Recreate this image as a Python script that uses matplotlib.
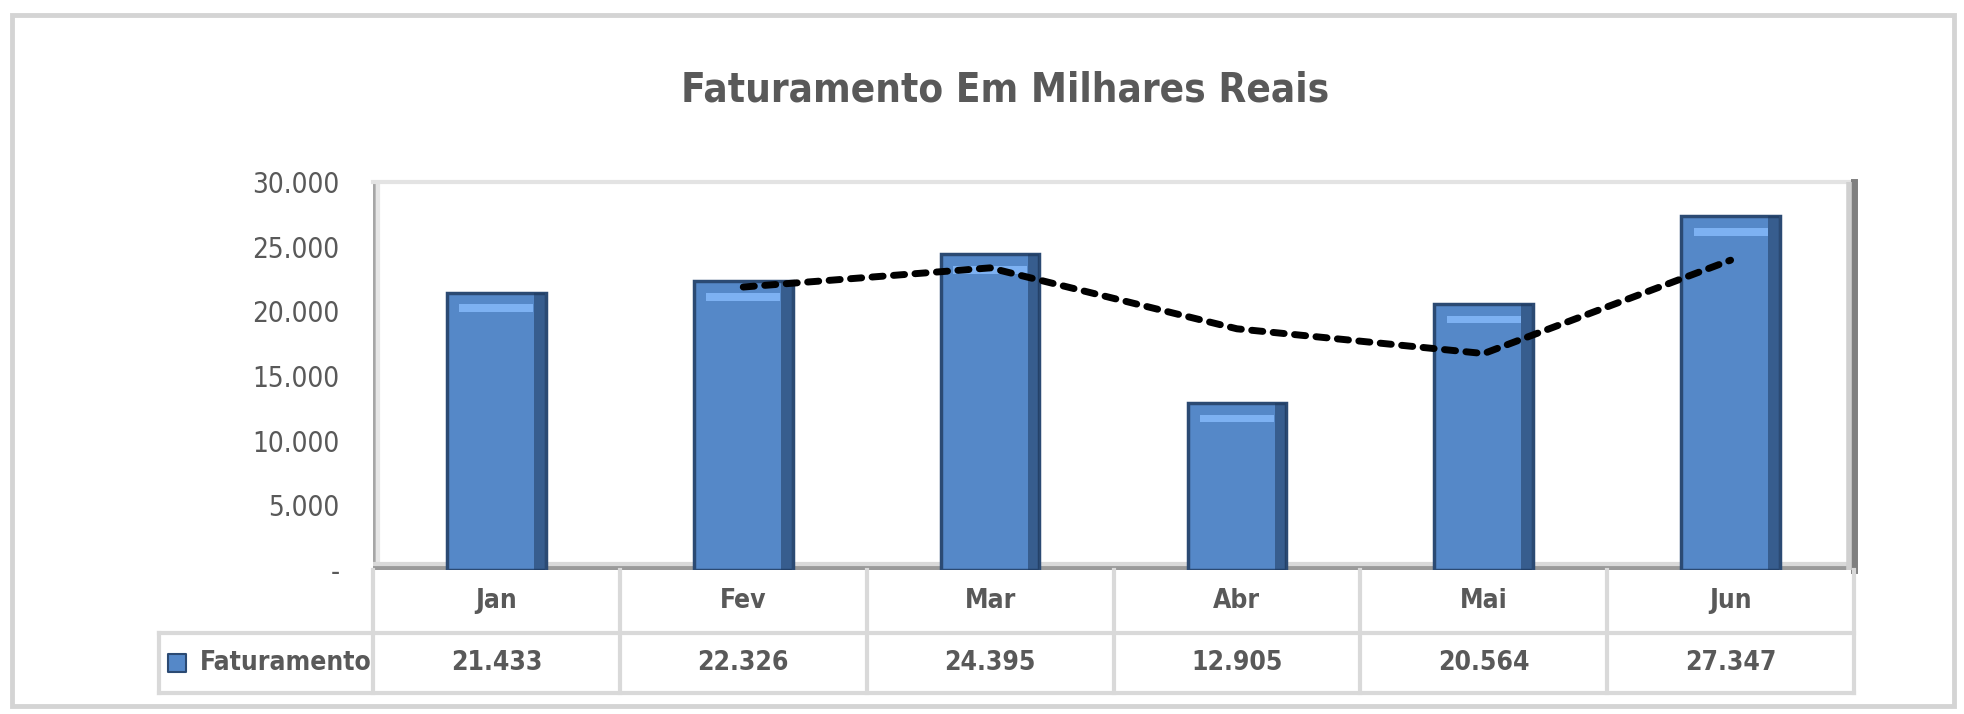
import numpy as np
import matplotlib
matplotlib.use('Agg')
import matplotlib.pyplot as plt
from matplotlib import font_manager
from matplotlib.patches import Rectangle
from matplotlib.transforms import blended_transform_factory

# dados
meses = ['Jan', 'Fev', 'Mar', 'Abr', 'Mai', 'Jun']
faturamento = [21433, 22326, 24395, 12905, 20564, 27347]
# média móvel (2 períodos), de Fev a Jun
media_meses = ['Fev', 'Mar', 'Abr', 'Mai', 'Jun']
media_movel = [21880, 23360, 18650, 16735, 23955]
y_ticks = [0, 5000, 10000, 15000, 20000, 25000, 30000]
y_labels = ['-', '5.000', '10.000', '15.000', '20.000', '25.000', '30.000']
tabela_valores = ['21.433', '22.326', '24.395', '12.905', '20.564', '27.347']

fontes = font_manager.fontManager.ttflist
if any(f.name == 'DejaVu Sans' and f.stretch == 'condensed' for f in fontes):
    plt.rcParams['font.family'] = ['DejaVu Sans']
    plt.rcParams['font.stretch'] = 'condensed'
else:
    plt.rcParams['font.family'] = ['Roboto', 'DejaVu Sans']
cinza = '#595959'

W, H = 1964, 714
fig = plt.figure(figsize=(W / 100, H / 100), dpi=100)

# moldura externa
fig.patches.append(Rectangle((12 / W, 8 / H), 1942 / W, 691 / H, transform=fig.transFigure,
                             fill=False, edgecolor='#d4d4d4', linewidth=3.5))

ax = fig.add_axes([373 / W, 1 - 570 / H, (1854 - 373) / W, (570 - 182) / H])
x = np.arange(len(meses))
vals = np.array(faturamento)

ax.bar(x, vals, width=0.4, color='#5588C8', edgecolor='#2B4A73', linewidth=2.5, zorder=3)
# brilho no topo e sombra lateral (efeito bisel)
ax.bar(x, np.full(len(x), 600), bottom=vals - 1500, width=0.3, color='#7DB1F2',
       linewidth=0, zorder=4)
ax.bar(x + 0.175, vals, width=0.045, color='#1f3a5f', alpha=0.55, linewidth=0, zorder=4)

mx = [meses.index(m) for m in media_meses]
ax.plot(mx, media_movel, color='black', linewidth=5, linestyle=(0, (1.6, 1.5)),
        dash_capstyle='round', solid_joinstyle='round', zorder=5)

ax.set_xlim(-0.5, len(meses) - 0.5)
ax.set_ylim(0, 30000)
ax.set_yticks(y_ticks)
ax.set_yticklabels(y_labels, fontsize=20, color=cinza)
ax.tick_params(axis='y', length=0, pad=24)
ax.set_xticks([])
for s in ax.spines.values():
    s.set_visible(False)

# paredes 3D da área de plotagem
ax.axvline(-0.5, color='#a6a6a6', linewidth=4, zorder=2)
ax.axvline(-0.48, color='#e6e6e6', linewidth=3, zorder=2)
ax.axhline(0, color='#9a9a9a', linewidth=6, zorder=2)
ax.axhline(500, color='#d9d9d9', linewidth=3, zorder=2)
ax.axhline(30000, color='#e3e3e3', linewidth=3, zorder=2, clip_on=False)
ax.axvline(len(meses) - 0.5, color='#7f7f7f', linewidth=5, zorder=2, clip_on=False)
ax.axvline(len(meses) - 0.52, color='#d0d0d0', linewidth=4, zorder=2)

# tabela de dados
tr = blended_transform_factory(ax.transData, ax.transAxes)
linha = dict(color='#d9d9d9', linewidth=3, transform=tr, clip_on=False)
y_h, y_v = -0.162, -0.317
x_leg = -1.367
ax.plot([-0.5, len(meses) - 0.5], [y_h, y_h], **linha)
ax.plot([x_leg, -0.5], [y_h, y_h], **linha)
ax.plot([x_leg, len(meses) - 0.5], [y_v, y_v], **linha)
ax.plot([x_leg, x_leg], [y_h, y_v], **linha)
for b in np.arange(-0.5, len(meses), 1.0):
    ax.plot([b, b], [0, y_v], **linha)

for i, m in enumerate(meses):
    ax.text(i, -0.080, m, transform=tr, ha='center', va='center', fontsize=19,
            fontweight='bold', color=cinza)
    ax.text(i, -0.240, tabela_valores[i], transform=tr, ha='center', va='center',
            fontsize=19, fontweight='bold', color=cinza)

ax.scatter([-1.294], [-0.240], marker='s', s=150, color='#5588C8', edgecolor='#2B4A73',
           linewidth=1.5, transform=tr, clip_on=False, zorder=6)
ax.text(-1.201, -0.240, 'Faturamento', transform=tr, ha='left', va='center',
        fontsize=19, fontweight='bold', color=cinza)

fig.text(1005 / W, 1 - 90 / H, 'Faturamento Em Milhares Reais', ha='center', va='center',
         fontsize=29, fontweight='bold', color=cinza)

fig.savefig('out.png', dpi=100)
